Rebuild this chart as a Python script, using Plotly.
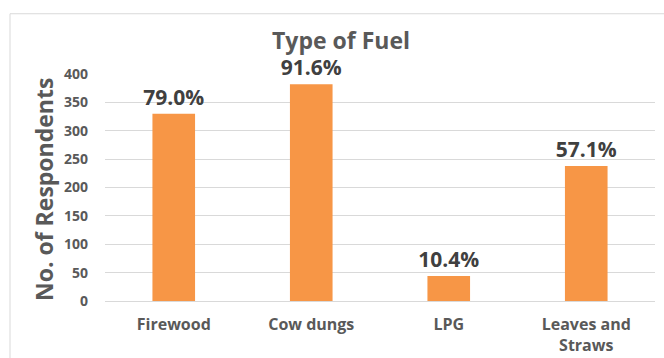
import plotly.graph_objects as go

categories = ["Firewood", "Cow dungs", "LPG", "Leaves and<br>Straws"]
respondents = [330, 382, 44, 238]
percent_labels = ["79.0%", "91.6%", "10.4%", "57.1%"]
y_ticks = [0, 50, 100, 150, 200, 250, 300, 350, 400]

W, H = 664, 358
L, R, T, B = 105, 9, 73.5, 56.5
pw, ph = W - L - R, H - T - B

def px_x(p):
    return (p - L) / pw

def px_y(p):
    return (H - B - p) / ph

fig = go.Figure(go.Bar(
    x=categories,
    y=respondents,
    text=percent_labels,
    textposition="outside",
    textfont=dict(family="Open Sans", size=21, color="#404040", weight="bold"),
    constraintext="none",
    cliponaxis=False,
    marker=dict(color="#F79646", line=dict(width=0)),
    width=0.31,
))

fig.update_layout(
    width=W, height=H,
    margin=dict(l=L, r=R, t=T, b=B, autoexpand=False),
    paper_bgcolor="white",
    plot_bgcolor="white",
    showlegend=False,
    font=dict(family="Open Sans", color="#595959"),
    title=dict(
        text="<b>Type of Fuel</b>",
        x=341 / W, xanchor="center",
        y=1 - 41 / H, yanchor="middle",
        font=dict(size=23, color="#595959", family="Open Sans"),
    ),
    xaxis=dict(
        showgrid=False,
        showline=False,
        zeroline=False,
        automargin=False,
        tickfont=dict(size=16, color="#595959", family="Open Sans", weight="bold"),
        ticklabelstandoff=12,
        ticks="",
    ),
    yaxis=dict(
        range=[0, 400],
        tickvals=y_ticks,
        showgrid=True,
        gridcolor="#d9d9d9",
        gridwidth=1,
        zeroline=True,
        zerolinecolor="#d9d9d9",
        zerolinewidth=1,
        showline=False,
        automargin=False,
        tickfont=dict(size=14, color="#595959", family="Open Sans", weight="bold"),
        ticklabelstandoff=16,
        ticks="",
    ),
    annotations=[dict(
        text="<b>No. of Respondents</b>",
        xref="paper", yref="paper",
        x=px_x(44), y=px_y(190),
        xanchor="center", yanchor="middle",
        textangle=-90,
        showarrow=False,
        font=dict(size=23, color="#595959", family="Open Sans"),
    )],
    shapes=[
        dict(type="line", xref="paper", yref="paper",
             x0=px_x(10), x1=px_x(670), y0=px_y(13), y1=px_y(13),
             line=dict(color="#d9d9d9", width=1)),
        dict(type="line", xref="paper", yref="paper",
             x0=px_x(10), x1=px_x(10), y0=px_y(13), y1=px_y(365),
             line=dict(color="#d9d9d9", width=1)),
    ],
)

fig.write_html("out.html")
